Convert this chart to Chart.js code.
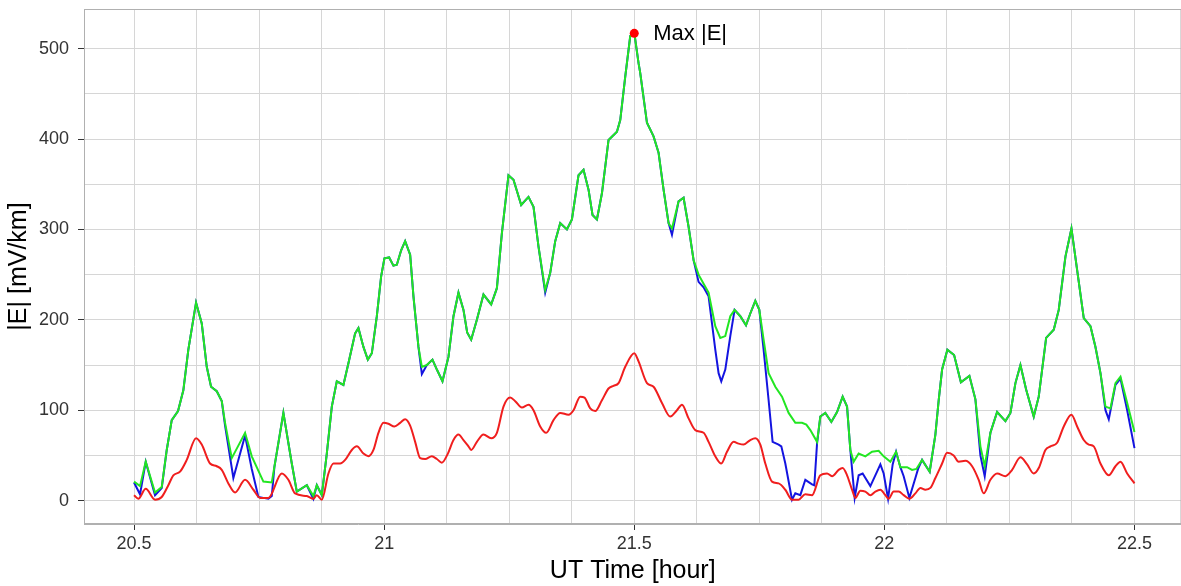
<!DOCTYPE html>
<html>
<head>
<meta charset="utf-8">
<script src="https://cdn.jsdelivr.net/npm/chart.js@4.4.1/dist/chart.umd.min.js"></script>
<style>
html,body{margin:0;padding:0;background:#fff;overflow:hidden;width:1181px;height:586px}
#wrap{width:1186px;height:586px;position:relative}
</style>
</head>
<body>
<div id="wrap"><canvas id="c" width="1186" height="586"></canvas></div>
<script>
// ---- data (UT hours, mV/km) ----
const greenT = [20.5,20.512,20.5234,20.542,20.5554,20.5654,20.5754,20.588,20.5986,20.6086,
20.624,20.6354,20.6454,20.654,20.6654,20.6754,20.682,20.6954,20.722,20.7354,
20.7586,20.7754,20.7986,20.8154,20.8254,20.8454,20.8586,20.8654,20.8754,20.8854,
20.8954,20.9054,20.9186,20.9286,20.942,20.9486,20.9586,20.9674,20.9754,20.9854,
20.994,21.0006,21.01,21.0186,21.0254,21.034,21.042,21.052,21.0586,21.0686,
21.0754,21.0854,21.0966,21.1054,21.1166,21.1286,21.1386,21.1486,21.1586,21.166,
21.174,21.1854,21.1986,21.214,21.2254,21.2354,21.2486,21.2586,21.274,21.2886,
21.2986,21.3086,21.322,21.332,21.342,21.352,21.3654,21.3754,21.3886,21.3986,
21.4086,21.4166,21.4254,21.4354,21.4486,21.4654,21.472,21.482,21.492,21.5,
21.5086,21.512,21.5254,21.5386,21.5486,21.5586,21.5686,21.5754,21.5886,21.5986,
21.6086,21.6186,21.6286,21.6386,21.6486,21.662,21.672,21.682,21.692,21.7006,
21.712,21.7234,21.732,21.742,21.75,21.7586,21.7686,21.782,21.7954,21.8086,
21.822,21.8354,21.844,21.852,21.8654,21.872,21.882,21.894,21.9054,21.9166,
21.9254,21.932,21.9386,21.9486,21.962,21.9754,21.9886,21.9986,22.012,22.0234,
22.032,22.0454,22.0554,22.064,22.0754,22.0906,22.102,22.1086,22.1154,22.126,
22.1394,22.153,22.17,22.182,22.192,22.2006,22.212,22.2254,22.242,22.252,
22.262,22.272,22.2834,22.2986,22.3086,22.3234,22.3386,22.3486,22.362,22.374,
22.3854,22.3986,22.412,22.422,22.432,22.442,22.452,22.462,22.472,22.4854,
22.5];
const greenV = [21,16,43,9,15,56,89,99,122,167,
219,196,148,126,121,110,86,47,75,49,
21,20,97,41,10,17,5,17,6,52,
104,132,128,152,185,191,170,156,163,204,
248,268,269,260,261,277,287,272,226,170,
148,150,156,145,132,159,204,230,211,186,
178,200,228,217,235,296,360,355,327,336,
325,281,233,252,287,307,300,311,360,366,
344,316,311,340,399,408,421,469,514,518,
484,473,418,403,385,344,307,301,331,335,
303,266,250,240,230,193,180,182,204,211,
204,194,207,221,211,178,141,126,115,97,
86,86,84,78,65,93,97,87,98,115,
104,56,43,52,49,54,55,49,43,54,
37,37,34,35,45,32,73,111,145,167,
161,131,138,112,60,38,75,98,88,97,
130,150,123,93,115,180,189,211,270,301,
255,202,193,170,141,104,102,130,137,108,
76];

const blueT = [20.5,20.512,20.5234,20.542,20.5554,20.5654,20.5754,20.588,20.5986,20.6086,
20.624,20.6354,20.6454,20.654,20.6654,20.6754,20.682,20.6986,20.722,20.7354,
20.7486,20.7586,20.7686,20.7754,20.7806,20.7986,20.8154,20.8254,20.8454,20.8586,
20.8654,20.8754,20.8854,20.8954,20.9054,20.9186,20.9286,20.942,20.9486,20.9586,
20.9674,20.9754,20.9854,20.994,21.0006,21.01,21.0186,21.0254,21.034,21.042,
21.052,21.0586,21.0686,21.0754,21.0854,21.0966,21.1054,21.1166,21.1286,21.1386,
21.1486,21.1586,21.166,21.174,21.1854,21.1986,21.214,21.2254,21.2354,21.2486,
21.2586,21.274,21.2886,21.2986,21.3086,21.322,21.332,21.342,21.352,21.3654,
21.3754,21.3886,21.3986,21.4086,21.4166,21.4254,21.4354,21.4486,21.4654,21.472,
21.482,21.492,21.5,21.5086,21.512,21.5254,21.5386,21.5486,21.5586,21.5686,
21.5754,21.5886,21.5986,21.6086,21.6186,21.6286,21.6386,21.6486,21.662,21.6686,
21.674,21.682,21.692,21.7006,21.712,21.7234,21.732,21.742,21.75,21.7586,
21.7686,21.7766,21.7886,21.794,21.802,21.8154,21.822,21.832,21.842,21.8554,
21.86,21.8654,21.872,21.882,21.894,21.9054,21.9166,21.9254,21.932,21.9406,
21.9486,21.9566,21.972,21.9854,21.992,21.9986,22.0074,22.0166,22.0234,22.032,
22.0386,22.05,22.062,22.0674,22.0754,22.0906,22.102,22.1086,22.1154,22.126,
22.1394,22.153,22.17,22.182,22.192,22.2006,22.212,22.2254,22.242,22.252,
22.262,22.272,22.2834,22.2986,22.3086,22.3234,22.3386,22.3486,22.362,22.374,
22.3854,22.3986,22.412,22.422,22.432,22.442,22.4486,22.462,22.472,22.4854,
22.5];
const blueV = [20,7,43,6,14,56,89,99,122,167,
219,196,148,126,121,110,83,25,72,35,
4,3,2,5,37,97,41,10,17,2,
17,6,52,104,132,128,152,185,191,170,
156,163,204,248,268,269,260,261,277,287,
272,226,170,140,150,156,145,132,159,204,
230,211,186,178,200,228,217,235,296,360,
355,327,336,325,281,230,252,287,307,300,
311,360,366,344,316,311,340,399,408,421,
469,514,518,484,473,418,403,385,344,307,
294,331,335,303,266,242,236,226,167,141,
132,145,182,211,204,194,207,221,211,167,
111,65,62,60,41,1,8,6,23,18,
17,63,93,97,87,98,115,104,56,3,
28,30,16,32,40,30,2,40,54,37,
27,3,25,35,45,32,73,111,145,167,
161,131,138,112,50,27,75,98,88,97,
130,150,123,93,115,180,189,211,270,301,
255,202,193,170,141,100,90,128,135,100,
58];

const redT = [20.5,20.5086,20.5234,20.542,20.5554,20.5686,20.5786,20.592,20.6054,20.624,
20.6354,20.652,20.6654,20.6754,20.6886,20.702,20.722,20.7386,20.752,20.7686,
20.7954,20.8086,20.822,20.8454,20.8586,20.8654,20.8754,20.8886,20.8986,20.912,
20.922,20.9354,20.9454,20.9586,20.9686,20.9786,20.9886,20.9986,21.0086,21.0206,
21.032,21.042,21.052,21.062,21.072,21.082,21.0954,21.1054,21.1154,21.1274,
21.1386,21.1486,21.1586,21.1686,21.174,21.1854,21.1986,21.214,21.2254,21.2386,
21.252,21.262,21.2754,21.2886,21.2986,21.312,21.324,21.3386,21.352,21.3686,
21.3786,21.392,21.4006,21.412,21.422,21.4354,21.4486,21.4586,21.4686,21.482,
21.5,21.5086,21.5254,21.5386,21.5554,21.572,21.5854,21.5954,21.6086,21.622,
21.6386,21.6486,21.662,21.674,21.6854,21.6986,21.7086,21.7186,21.732,21.742,
21.752,21.762,21.7754,21.7886,21.802,21.8154,21.8286,21.842,21.8554,21.872,
21.8854,21.8954,21.9086,21.9166,21.9254,21.9354,21.942,21.952,21.962,21.972,
21.982,21.992,22.002,22.0086,22.0186,22.0286,22.0386,22.05,22.062,22.072,
22.082,22.092,22.102,22.1154,22.1254,22.1386,22.1486,22.162,22.1754,22.1886,
22.1986,22.212,22.2254,22.242,22.2554,22.272,22.2854,22.2986,22.3086,22.322,
22.332,22.3454,22.3586,22.374,22.3854,22.3986,22.4086,22.4186,22.432,22.4486,
22.462,22.472,22.4854,22.5];
const redV = [6,2,13,1,4,17,28,32,45,69,
62,41,38,34,19,9,23,12,3,3,
30,23,8,5,2,6,1,30,41,41,
45,56,60,52,49,56,75,86,85,82,
86,90,83,65,47,46,49,46,42,52,
67,73,67,60,56,65,73,69,75,104,
114,110,103,106,100,82,75,89,97,95,
100,115,114,102,99,111,124,127,130,148,
163,154,130,126,108,93,100,106,91,78,
75,65,49,41,54,65,63,62,67,69,
62,41,21,19,12,1,1,7,6,28,
30,27,34,36,28,12,3,11,10,6,
10,12,6,2,10,10,6,2,8,14,
12,14,25,41,53,50,43,44,38,23,
8,23,30,27,34,48,40,30,36,56,
60,64,82,95,82,67,62,60,41,28,
38,43,30,19];

const maxT = [21.5];
const maxV = [517];
const maxLabel = 'Max |E|';

const xTickLabels = [20.5, 21, 21.5, 22, 22.5];
const yTickLabels = [0, 100, 200, 300, 400, 500];
const xTitle = 'UT Time [hour]';
const yTitle = '|E| [mV/km]';

// ---- chart ----
const pts = (t, v) => t.map((x, i) => ({x: x, y: v[i]}));
const isLabelX = v => xTickLabels.some(l => Math.abs(l - v) < 1e-6);
const isLabelY = v => yTickLabels.some(l => Math.abs(l - v) < 1e-6);

Chart.defaults.font.family = '"Liberation Sans", Arial, sans-serif';

const frame = {
  id: 'frame',
  afterDatasetsDraw(chart) {
    const {ctx, chartArea: a} = chart;
    ctx.save();
    ctx.strokeStyle = '#b0b0b0';
    ctx.lineWidth = 1;
    ctx.strokeRect(a.left + 0.5, a.top + 0.5, a.right - a.left - 1, a.bottom - a.top - 1);
    const p = chart.getDatasetMeta(0).data[0];
    ctx.fillStyle = '#000';
    ctx.font = '22px "Liberation Sans", Arial, sans-serif';
    ctx.textBaseline = 'middle';
    ctx.textAlign = 'left';
    ctx.fillText(maxLabel, p.x + 19, p.y + 1);
    ctx.restore();
  }
};

new Chart(document.getElementById('c'), {
  type: 'line',
  data: {
    datasets: [
      {data: pts(maxT, maxV), showLine: false, pointRadius: 4.5, pointBackgroundColor: '#ff0000', pointBorderWidth: 0, borderColor: '#ff0000'},
      {data: pts(redT, redV), borderColor: '#f01e1e', borderWidth: 2, pointRadius: 0, cubicInterpolationMode: 'monotone'},
      {data: pts(greenT, greenV), borderColor: '#22e622', borderWidth: 2, pointRadius: 0, tension: 0},
      {data: pts(blueT, blueV), borderColor: '#1414e0', borderWidth: 2, pointRadius: 0, tension: 0}
    ]
  },
  options: {
    responsive: false,
    animation: false,
    devicePixelRatio: 1,
    layout: {padding: {top: 9, right: 0, left: 0, bottom: 0}},
    plugins: {legend: {display: false}, tooltip: {enabled: false}},
    scales: {
      x: {
        type: 'linear',
        min: 20.4,
        max: 22.594,
        afterBuildTicks(scale) {
          const t = [];
          for (let i = 0; i <= 16; i++) t.push({value: Math.round((20.5 + i * 0.125) * 1000) / 1000});
          scale.ticks = t;
        },
        afterFit(scale) {
          scale.height = 62;
          scale.paddingLeft = 0; scale.paddingRight = 0;
        },
        ticks: {
          autoSkip: false, maxRotation: 0, minRotation: 0,
          padding: 3, color: '#333', font: {size: 18},
          callback: v => isLabelX(v) ? String(v) : ''
        },
        grid: {
          color: '#d6d6d6', lineWidth: 1, drawTicks: true, tickLength: 6,
          tickColor: ctx => (ctx.tick && isLabelX(ctx.tick.value)) ? '#333' : 'rgba(0,0,0,0)'
        },
        border: {display: true, color: '#b0b0b0'},
        title: {display: true, text: xTitle, color: '#000', font: {size: 25, lineHeight: 1}, padding: {top: 0, bottom: 2}}
      },
      y: {
        min: -25.9,
        max: 543.9,
        afterBuildTicks(scale) {
          const t = [];
          for (let i = 0; i <= 10; i++) t.push({value: i * 50});
          scale.ticks = t;
        },
        afterFit(scale) {
          scale.width = 84;
          scale.paddingTop = 0; scale.paddingBottom = 0;
        },
        ticks: {
          autoSkip: false, padding: 9, color: '#333', font: {size: 18},
          callback: v => isLabelY(v) ? String(v) : ''
        },
        grid: {
          color: '#d6d6d6', lineWidth: 1, drawTicks: true, tickLength: 6,
          tickColor: ctx => (ctx.tick && isLabelY(ctx.tick.value)) ? '#333' : 'rgba(0,0,0,0)'
        },
        border: {display: true, color: '#b0b0b0'},
        title: {display: true, text: yTitle, color: '#000', font: {size: 25, lineHeight: 1}, padding: {top: 7, bottom: 0}}
      }
    }
  },
  plugins: [frame]
});
</script>
</body>
</html>
